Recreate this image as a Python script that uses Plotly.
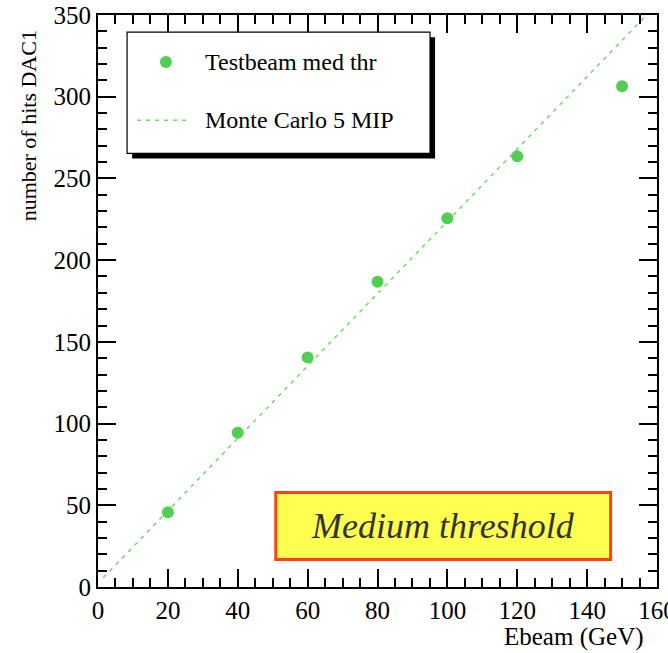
import plotly.graph_objects as go

# Beam energy scan, medium threshold
ebeam_gev = [20, 40, 60, 80, 100, 120, 150]
hits_dac1 = [45.7, 94.4, 140.5, 186.8, 225.6, 263.6, 306.4]

# Monte Carlo 5 MIP expectation (straight-line fit endpoints)
mc_ebeam = [1.5, 157.0]
mc_hits = [5.7, 350.0]

x_ticks = [0, 20, 40, 60, 80, 100, 120, 140, 160]
y_ticks = [0, 50, 100, 150, 200, 250, 300, 350]

GREEN = "rgb(82,206,82)"
DASH_GREEN = "rgb(105,222,105)"
FONT = "Liberation Serif"

fig = go.Figure()
fig.add_trace(go.Scatter(
    x=mc_ebeam, y=mc_hits, mode="lines",
    line=dict(color=DASH_GREEN, width=1.5, dash="4px,5px"),
    name="Monte Carlo 5 MIP", showlegend=False,
))
fig.add_trace(go.Scatter(
    x=ebeam_gev, y=hits_dac1, mode="markers",
    marker=dict(color=GREEN, size=12, line=dict(width=0)),
    name="Testbeam med thr", showlegend=False,
))

tick_common = dict(
    showgrid=False, zeroline=False, showline=True, linecolor="black", linewidth=2,
    ticks="inside", ticklen=18, tickwidth=1.6, tickcolor="black", automargin=False,
)
minor_x = dict(dtick=5, ticks="inside", ticklen=9, tickwidth=1.6, tickcolor="black")
minor_y = dict(dtick=10, ticks="inside", ticklen=9, tickwidth=1.6, tickcolor="black")
tickfont = dict(family=FONT, size=25, color="black")

fig.update_layout(
    xaxis=dict(range=[0, 160], tickvals=x_ticks, ticktext=[str(v) for v in x_ticks],
               minor=minor_x, tickfont=tickfont, ticklabeloverflow="allow", **tick_common),
    yaxis=dict(range=[0, 350], tickvals=y_ticks, ticktext=[str(v) for v in y_ticks],
               minor=minor_y, tickfont=tickfont, **tick_common),
    # mirrored frame with major and minor ticks on top and right
    xaxis2=dict(range=[0, 160], overlaying="x", side="top", anchor="y",
                tickvals=x_ticks, showticklabels=False, minor=minor_x, **tick_common),
    yaxis2=dict(range=[0, 350], overlaying="y", side="right", anchor="x",
                tickvals=y_ticks, showticklabels=False, minor=minor_y, **tick_common),
)
# invisible helper trace so the mirrored axes are drawn
fig.add_trace(go.Scatter(x=[None], y=[None], xaxis="x2", yaxis="y2",
                         showlegend=False, hoverinfo="skip"))

# Axis titles, right-aligned at the far end as in ROOT
fig.add_annotation(text="Ebeam (GeV)", xref="paper", yref="paper", x=0.981, y=-0.088,
                   xanchor="right", yanchor="middle", showarrow=False,
                   font=dict(family=FONT, size=25, color="black"))
fig.add_annotation(text="number of hits DAC1", xref="paper", yref="paper", x=-0.124, y=0.977,
                   xanchor="center", yanchor="top", textangle=-90, showarrow=False,
                   font=dict(family=FONT, size=22, color="black"))

# Legend box with drop shadow
lx0, lx1, ly0, ly1 = 0.052, 0.594, 0.758, 0.97
sh_dx, sh_dy = 0.009, 0.009
fig.add_shape(type="rect", xref="paper", yref="paper",
              x0=lx0 + sh_dx, x1=lx1 + sh_dx, y0=ly0 - sh_dy, y1=ly1 - sh_dy,
              fillcolor="black", line=dict(width=0), layer="above")
fig.add_shape(type="rect", xref="paper", yref="paper",
              x0=lx0, x1=lx1, y0=ly0, y1=ly1,
              fillcolor="white", line=dict(color="black", width=1.2), layer="above")
fig.add_shape(type="circle", xref="paper", yref="paper",
              x0=0.1215 - 0.0107, x1=0.1215 + 0.0107, y0=0.918 - 0.0105, y1=0.918 + 0.0105,
              fillcolor=GREEN, line=dict(width=0), layer="above")
fig.add_shape(type="line", xref="paper", yref="paper",
              x0=0.07, x1=0.162, y0=0.816, y1=0.816,
              line=dict(color=DASH_GREEN, width=1.5, dash="4px,5px"), layer="above")
fig.add_annotation(text="Testbeam med thr", xref="paper", yref="paper", x=0.187, y=0.917,
                   xanchor="left", yanchor="middle", showarrow=False,
                   font=dict(family=FONT, size=24, color="black"))
fig.add_annotation(text="Monte Carlo 5 MIP", xref="paper", yref="paper", x=0.187, y=0.816,
                   xanchor="left", yanchor="middle", showarrow=False,
                   font=dict(family=FONT, size=24, color="black"))

# Threshold label box
fig.add_shape(type="rect", xref="paper", yref="paper",
              x0=0.318, x1=0.917, y0=0.048, y1=0.165,
              fillcolor="rgb(255,255,80)", line=dict(color="rgb(255,64,16)", width=3), layer="above")
fig.add_annotation(text="<i>Medium threshold</i>", xref="paper", yref="paper", x=0.6175, y=0.1065,
                   xanchor="center", yanchor="middle", showarrow=False,
                   font=dict(family=FONT, size=36, color="rgb(51,51,51)"))

fig.update_layout(
    width=668, height=653,
    margin=dict(l=97.5, r=10.5, t=14.5, b=66, pad=0),
    paper_bgcolor="white", plot_bgcolor="white",
    showlegend=False,
)

fig.write_html("out.html")
